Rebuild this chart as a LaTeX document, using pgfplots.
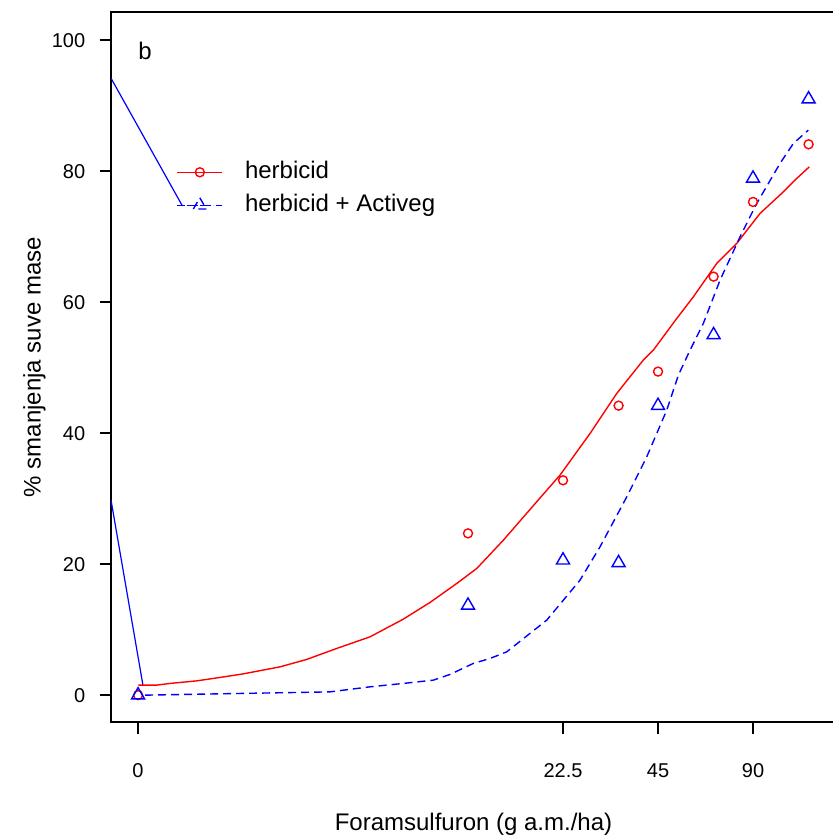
\documentclass[border=0pt]{standalone}
\usepackage{pgfplots}
\pgfplotsset{compat=1.18}
\usepackage{fontspec}
\setmainfont{Liberation Sans}

\pgfplotsset{
  leglong/.style={legend image code/.code={\draw[mark repeat=2,mark phase=2,##1] plot coordinates {(0pt,0pt) (11.25pt,0pt) (22.5pt,0pt)};}},
  legshort/.style={legend image code/.code={\path (0pt,0pt) -- (22.5pt,0pt);\draw[mark repeat=2,mark phase=2,##1] plot coordinates {(4.75pt,0pt) (11.25pt,0pt) (17.75pt,0pt)};}},
}

\begin{document}
\begin{tikzpicture}
\begin{axis}[
  scale only axis, width=362.5pt, height=355pt,
  xmode=log, xmin=0.8315, xmax=164.9,
  ymin=-4.1, ymax=104.3,
  axis line style={line width=0.9pt},
  tick style={line width=0.9pt, black},
  tick align=outside, major tick length=5.75pt,
  xtick pos=left, ytick pos=left, xminorticks=false,
  xtick={1.013,22.5,45,90}, xticklabels={0,22.5,45,90},
  ytick={0,20,40,60,80,100},
  /pgf/number format/assume math mode=true,
  ticklabel style={font=\fontsize{10}{12}\selectfont, inner sep=0pt},
  yticklabel style={anchor=east, xshift=-7pt},
  xticklabel style={anchor=north, yshift=-15pt},
  xlabel={Foramsulfuron (g a.m./ha)},
  ylabel={\% smanjenja suve mase},
  label style={font=\fontsize{12}{14}\selectfont, inner sep=0pt},
  xlabel style={at={(axis description cs:0.5,-0.1535)}, anchor=base},
  ylabel style={at={(axis description cs:-0.097,0.5)}, anchor=base},
  legend style={draw=none, fill=none, inner sep=0pt,
    at={(rel axis cs:0.09,0.751)}, anchor=west,
    font=\fontsize{12}{14}\selectfont,
    nodes={inner sep=0pt, text height=9pt, text depth=3pt},
    row sep=4.5pt,
    /tikz/every odd column/.append style={column sep=11pt}},
  legend cell align=left,
]
% legend
\addlegendimage{red, line width=0.7pt, mark=o, mark size=2.25pt, leglong}
\addlegendentry{herbicid}
\addlegendimage{blue, line width=0.7pt, dash pattern=on 4pt off 2.5pt, mark=triangle, mark size=3.75pt, legshort}
\addlegendentry{herbicid + Activeg}

% stray lines
\addplot[blue, line width=0.6pt, forget plot] coordinates {(0.8315,94.2) (1.396,74.8)};
\addplot[blue, line width=0.6pt, forget plot] coordinates {(0.8315,29.8) (1.050,1.5)};

% fitted curve, herbicid
\addplot[red, line width=0.7pt, forget plot] coordinates {
(1.015,1.53) (1.160,1.53) (1.279,1.79) (1.554,2.18) (1.841,2.70) (2.183,3.25)
(2.854,4.32) (3.467,5.45) (4.316,7.13) (5.502,8.90) (7.016,11.60) (8.526,14.15)
(10.36,17.05) (11.99,19.34) (14.56,23.66) (18.56,29.51) (22.01,33.59) (27.40,39.95)
(33.29,46.06) (40.41,51.15) (43.48,52.67) (51.59,57.51) (58.23,60.81) (69.07,65.91)
(79.9,68.96) (94.7,73.54) (112.3,76.84) (123.8,78.89) (135.7,80.66)};

% fitted curve, herbicid + Activeg
\addplot[blue, line width=0.7pt, dash pattern=on 4pt off 2.5pt, forget plot] coordinates {
(1.066,0) (4.110,0.5) (5.502,1.27) (7.016,1.79) (8.734,2.29) (9.864,3.16)
(11.69,4.84) (13.21,5.60) (14.92,6.61) (19.98,11.45) (25.47,17.56) (29.47,22.64)
(35.82,30.27) (41.44,36.38) (47.95,43.51) (52.2,48.85) (56.84,52.67) (62.64,56.75)
(70.76,63.36) (81.86,69.97) (92.46,75.07) (109.6,81.18) (120.8,84.23) (134.7,86.26)};

% observed means
\addplot[red, only marks, mark=o, mark size=2.25pt, line width=0.7pt, forget plot] coordinates {
(1.013,0) (11.25,24.7) (22.5,32.8) (33.75,44.2) (45,49.4) (67.5,63.9) (90,75.3) (135,84.1)};
\addplot[blue, only marks, mark=triangle, mark size=3.75pt, line width=0.7pt, forget plot] coordinates {
(1.013,0) (11.25,13.7) (22.5,20.6) (33.75,20.2) (45,44.2) (67.5,55.0) (90,78.9) (135,91.0)};

\node[font=\fontsize{12}{14}\selectfont, inner sep=0pt] at (axis cs:1.066,98.3) {b};
\end{axis}
\pgfresetboundingbox
\path[use as bounding box] ([shift={(-55.5pt,-58pt)}]current axis.south west)
  rectangle ([shift={(361pt,6pt)}]current axis.north west);
\end{tikzpicture}
\end{document}
